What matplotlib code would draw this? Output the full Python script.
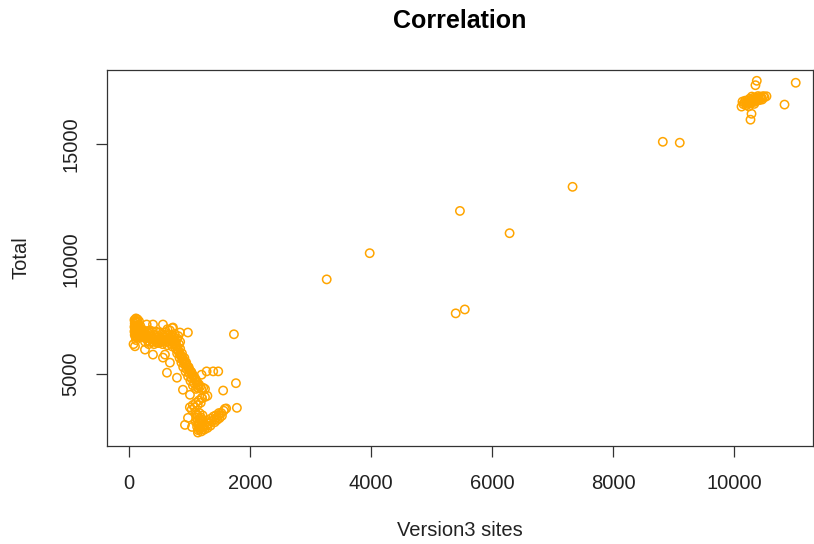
import numpy as np
import matplotlib.pyplot as plt

# sites (Version3) vs Total
low_blob = [
    (95, 7350), (120, 7420), (145, 7380), (170, 7300), (100, 7200), (130, 7250),
    (160, 7150), (190, 7100), (95, 7050), (125, 7000), (155, 7050), (185, 6950),
    (215, 6950), (95, 6850), (125, 6800), (155, 6850), (190, 6800), (220, 6750),
    (100, 6700), (130, 6650), (160, 6700), (200, 6650), (240, 6650), (80, 6300),
    (110, 7300), (140, 7300), (110, 7100), (140, 7100), (170, 7000), (110, 6900),
    (140, 6950), (170, 6850), (110, 6750), (145, 6750), (180, 6700), (210, 6850),
    (115, 6600), (150, 6600), (185, 6600), (120, 6480), (104, 6207),
]
low_band = [
    (260, 6750), (300, 6700), (340, 6750), (380, 6650), (420, 6700), (460, 6600),
    (500, 6650), (540, 6550), (580, 6600), (620, 6500), (660, 6550), (700, 6450),
    (740, 6500), (780, 6400), (280, 6550), (320, 6450), (360, 6550), (400, 6400),
    (440, 6500), (480, 6350), (520, 6450), (560, 6300), (600, 6400), (640, 6250),
    (680, 6350), (720, 6200), (760, 6300), (270, 6400), (330, 6300), (420, 6300),
    (600, 6800), (680, 6900), (760, 6750), (820, 6650), (640, 6950), (720, 7000),
    (250, 6900), (300, 6850), (350, 6900), (400, 6850), (450, 6850), (500, 6800),
    (550, 6750), (600, 6700), (650, 6700), (700, 6650), (750, 6600), (800, 6550),
    (300, 6600), (400, 6500), (500, 6500), (600, 6500), (700, 6550), (350, 6400),
    (450, 6400), (550, 6400), (650, 6400), (750, 6400), (500, 6350), (850, 6400),
    (297, 7155), (401, 7155), (566, 7155), (731, 7024), (846, 6806), (978, 6806),
    (269, 6062), (401, 5844), (566, 5713), (681, 5494), (599, 5844),
]
descend = [
    (760, 6300), (830, 6300), (780, 6100), (850, 6100), (800, 5900), (880, 5900),
    (840, 5700), (920, 5700), (870, 5500), (950, 5500), (900, 5300), (990, 5300),
    (940, 5100), (1030, 5100), (980, 4900), (1070, 4900), (1020, 4700), (1110, 4700),
    (1060, 4500), (1150, 4500), (1110, 4350), (1200, 4350), (1260, 4350),
    (800, 6200), (820, 6000), (860, 5800), (890, 5600), (930, 5400), (960, 5200),
    (1010, 5000), (1040, 4800), (1080, 4600), (1130, 4420),
    (790, 6200), (810, 6050), (830, 5950), (850, 5850), (880, 5750), (900, 5650),
    (920, 5550), (940, 5450), (960, 5350), (990, 5250), (1010, 5150), (1040, 5050),
    (1060, 4950), (1090, 4850), (1110, 4750), (1130, 4650), (1160, 4550),
    (1180, 4450), (1230, 4400), (1150, 4380),
    (632, 5057), (797, 4838), (896, 4314), (1012, 4095), (1204, 4969),
    (1287, 5114), (1396, 5114), (1479, 5114), (1209, 3964),
]
low_branch = [
    (1010, 3550), (1060, 3650), (1110, 3750), (1160, 3850), (1210, 3950),
    (1260, 4000), (1300, 4050), (1040, 3450), (1090, 3550), (1140, 3650),
    (1190, 3750),
    (1120, 3250), (1170, 3300), (1220, 3200), (1120, 3100), (1170, 3050),
    (1230, 3000), (1110, 2900), (1160, 2850), (1210, 2900), (1260, 2800),
    (1130, 2700), (1180, 2650), (1230, 2700), (1150, 2550), (1200, 2500),
    (1250, 2580), (1100, 3350), (1140, 3180), (1190, 3120), (1140, 2980),
    (1190, 2960), (1150, 2780), (1200, 2760), (1170, 2600), (1220, 2600),
    (1290, 2750), (1330, 2850), (1370, 2950), (1410, 3000), (1450, 3100),
    (1490, 3200), (1530, 3300), (1570, 3400), (1610, 3500), (1300, 2950),
    (1350, 3050), (1400, 3150), (1300, 2650), (1350, 2750), (1420, 2900),
    (1460, 3000), (1500, 3080), (1540, 3180), (1440, 3200), (1490, 3300),
    (979, 3090), (929, 2784), (1045, 2696), (1143, 2450),
]
low_outliers = [(1738, 6730), (1771, 4600), (1787, 3527), (1560, 4280), (1589, 3483)]
middle = [
    (3270, 9120), (3980, 10260), (5470, 12100), (5550, 7810), (5400, 7640),
    (6290, 11130), (7330, 13150), (8820, 15110), (9100, 15070),
]
top_cluster = [
    (10150, 16750), (10200, 16800), (10250, 16850), (10300, 16900), (10350, 16950),
    (10400, 17000), (10450, 17050), (10480, 17100), (10200, 16700), (10270, 16780),
    (10340, 16850), (10410, 16920), (10180, 16900), (10250, 16980), (10320, 17030),
    (10390, 17100), (10460, 16950), (10170, 16820), (10230, 16900), (10290, 16960),
    (10360, 17020), (10430, 17080), (10220, 16760), (10290, 16830), (10370, 16900),
    (10440, 16990), (10500, 17050), (10240, 16650), (10330, 16760), (10290, 17080),
    (10372, 17766), (10350, 17574), (10532, 17093), (10285, 16330), (10268, 16072),
    (10136, 16861), (10120, 16643), (10830, 16730), (11015, 17680),
]

x_ticks = [0, 2000, 4000, 6000, 8000, 10000]
y_ticks = [5000, 10000, 15000]

pts = np.array(low_blob + low_band + descend + low_branch + low_outliers + middle + top_cluster)
sites, total = pts[:, 0], pts[:, 1]

plt.rcParams['font.family'] = ['Liberation Sans', 'DejaVu Sans']
fig = plt.figure(figsize=(8.14, 5.44), dpi=100)
ax = fig.add_axes([106.7 / 814, 1 - 445.7 / 544, (812.5 - 106.7) / 814, (445.7 - 70) / 544])

ax.scatter(sites, total, s=36, facecolors='none', edgecolors='#FFA500', linewidths=1.1)

ax.set_xlim(-363, 11292)
ax.set_ylim(1878, 18236)
ax.set_xticks(x_ticks)
ax.set_yticks(y_ticks)
ax.set_yticklabels([str(v) for v in y_ticks], rotation=90, va='center')
for s in ax.spines.values():
    s.set_color('#333333')
    s.set_linewidth(0.9)
ax.tick_params(length=8, width=0.9, color='#333333', labelsize=14.5, labelcolor='#222222')
ax.tick_params(axis='x', pad=12.5)
ax.tick_params(axis='y', pad=11)

cx = (106.7 + 812.5) / 2 / 814
fig.text(cx, 1 - 21 / 544, 'Correlation', ha='center', va='center', fontsize=18, fontweight='bold')
fig.text(cx, 1 - 531 / 544, 'Version3 sites', ha='center', va='center', fontsize=14.5, color='#222222')
fig.text(21 / 814, 1 - 258 / 544, 'Total', ha='center', va='center', rotation=90, fontsize=14.5, color='#222222')

fig.savefig('out.png', dpi=100)
